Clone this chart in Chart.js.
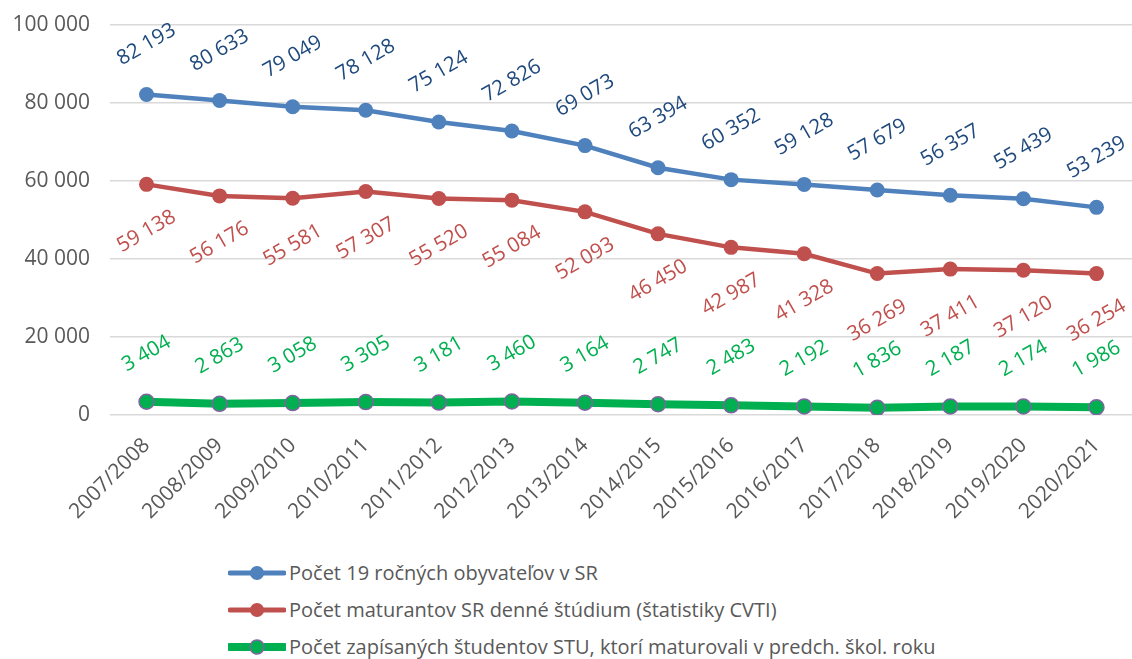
<!DOCTYPE html>
<html lang="sk">
<head>
  <meta charset="UTF-8">
  <title>Počet obyvateľov, maturantov a študentov STU</title>
  <script src="https://cdn.jsdelivr.net/npm/chart.js"></script>
  <style>
    body {
      margin: 0;
      background: #ffffff;
      font-family: 'Open Sans', sans-serif;
      width: 1132px;
      height: 659px;
      overflow: hidden;
      position: relative;
    }

    /* o 10px sirsie, Chart.js si vpravo nechava rezervu pre otocene popisky */
    .chart-box {
      position: absolute;
      left: 0;
      top: 0;
      width: 1142px;
      height: 540px;
    }

    .legend {
      position: absolute;
      left: 228px;
      top: 554px;
    }

    .legend-row {
      display: flex;
      align-items: center;
      height: 37px;
      color: #595959;
      font-size: 20px;
      white-space: nowrap;
    }

    .legend-row svg {
      margin-right: 3px;
    }
  </style>
</head>
<body>

  <div class="chart-box">
    <canvas id="chart"></canvas>
  </div>

  <div class="legend" id="legend"></div>

  <script>
    const roky = ['2007/2008', '2008/2009', '2009/2010', '2010/2011', '2011/2012', '2012/2013', '2013/2014',
                  '2014/2015', '2015/2016', '2016/2017', '2017/2018', '2018/2019', '2019/2020', '2020/2021'];
    const obyvatelia19 = [82193, 80633, 79049, 78128, 75124, 72826, 69073, 63394, 60352, 59128, 57679, 56357, 55439, 53239];
    const maturanti = [59138, 56176, 55581, 57307, 55520, 55084, 52093, 46450, 42987, 41328, 36269, 37411, 37120, 36254];
    const studentiSTU = [3404, 2863, 3058, 3305, 3181, 3460, 3164, 2747, 2483, 2192, 1836, 2187, 2174, 1986];
    const yTicks = [0, 20000, 40000, 60000, 80000, 100000];

    const nazvy = [
      'Počet 19 ročných obyvateľov v SR',
      'Počet maturantov SR denné štúdium (štatistiky CVTI)',
      'Počet zapísaných študentov STU, ktorí maturovali v predch. škol. roku'
    ];

    function fmt(n) {
      return String(n).replace(/\B(?=(\d{3})+(?!\d))/g, ' ');
    }

    // popisky hodnot, otocene ako v Exceli
    const valueLabels = {
      id: 'valueLabels',
      afterDatasetsDraw(chart) {
        const ctx = chart.ctx;
        chart.data.datasets.forEach((ds, i) => {
          const meta = chart.getDatasetMeta(i);
          meta.data.forEach((pt, j) => {
            ctx.save();
            ctx.translate(pt.x, pt.y + ds.labelOffset);
            ctx.rotate(-30 * Math.PI / 180);
            ctx.font = '20.5px "Open Sans"';
            ctx.fillStyle = ds.labelColor;
            ctx.textAlign = 'center';
            ctx.textBaseline = 'middle';
            ctx.fillText(fmt(ds.data[j]), 0, 0);
            ctx.restore();
          });
        });
      }
    };

    const chart = new Chart(document.getElementById('chart'), {
      type: 'line',
      data: {
        labels: roky,
        datasets: [
          {
            label: nazvy[0],
            data: obyvatelia19,
            borderColor: '#4F81BD',
            backgroundColor: '#4F81BD',
            borderWidth: 4.5,
            pointRadius: 7.5,
            pointBorderWidth: 0,
            labelOffset: -50,
            labelColor: '#1F497D'
          },
          {
            label: nazvy[1],
            data: maturanti,
            borderColor: '#C0504D',
            backgroundColor: '#C0504D',
            borderWidth: 4.5,
            pointRadius: 7.5,
            pointBorderWidth: 0,
            labelOffset: 47,
            labelColor: '#C0504D'
          },
          {
            label: nazvy[2],
            data: studentiSTU,
            borderColor: '#00B050',
            backgroundColor: '#00B050',
            borderWidth: 8,
            pointRadius: 7.5,
            pointBorderColor: '#8064A2',
            pointBorderWidth: 1.5,
            labelOffset: -48,
            labelColor: '#00B050'
          }
        ]
      },
      options: {
        responsive: true,
        maintainAspectRatio: false,
        animation: false,
        layout: { padding: { top: 25, right: 0, left: 0, bottom: 0 } },
        plugins: {
          legend: { display: false },
          tooltip: { enabled: false }
        },
        scales: {
          x: {
            offset: true,
            grid: { display: false },
            border: { display: false },
            ticks: {
              color: '#595959',
              font: { family: 'Open Sans', size: 21 },
              minRotation: 45,
              maxRotation: 45,
              padding: 10
            },
            afterFit: (s) => {
              s.height = 125;
            }
          },
          y: {
            min: 0,
            max: 100000,
            border: { display: false },
            grid: { color: '#d9d9d9', lineWidth: 1.5, drawTicks: false },
            afterBuildTicks: (s) => { s.ticks = yTicks.map(v => ({ value: v })); },
            ticks: {
              color: '#595959',
              font: { family: 'Open Sans', size: 21 },
              padding: 20,
              callback: (v) => fmt(v)
            },
            afterFit: (s) => {
              s.width = 110;
              s.paddingTop = 0;
              s.paddingBottom = 0;
            }
          }
        }
      },
      plugins: [valueLabels]
    });

    // legenda pod grafom
    const legend = document.getElementById('legend');
    chart.data.datasets.forEach((ds) => {
      const row = document.createElement('div');
      row.className = 'legend-row';
      const stroke = ds.borderWidth > 5 ? 8 : 5;
      const ring = ds.pointBorderColor ? `stroke="${ds.pointBorderColor}" stroke-width="1.5"` : '';
      row.innerHTML = `<svg width="58" height="20"><line x1="2" y1="10" x2="56" y2="10" stroke="${ds.borderColor}" stroke-width="${stroke}" stroke-linecap="round"/><circle cx="29" cy="10" r="7" fill="${ds.backgroundColor}" ${ring}/></svg><span>${ds.label}</span>`;
      legend.appendChild(row);
    });
  </script>
</body>
</html>
